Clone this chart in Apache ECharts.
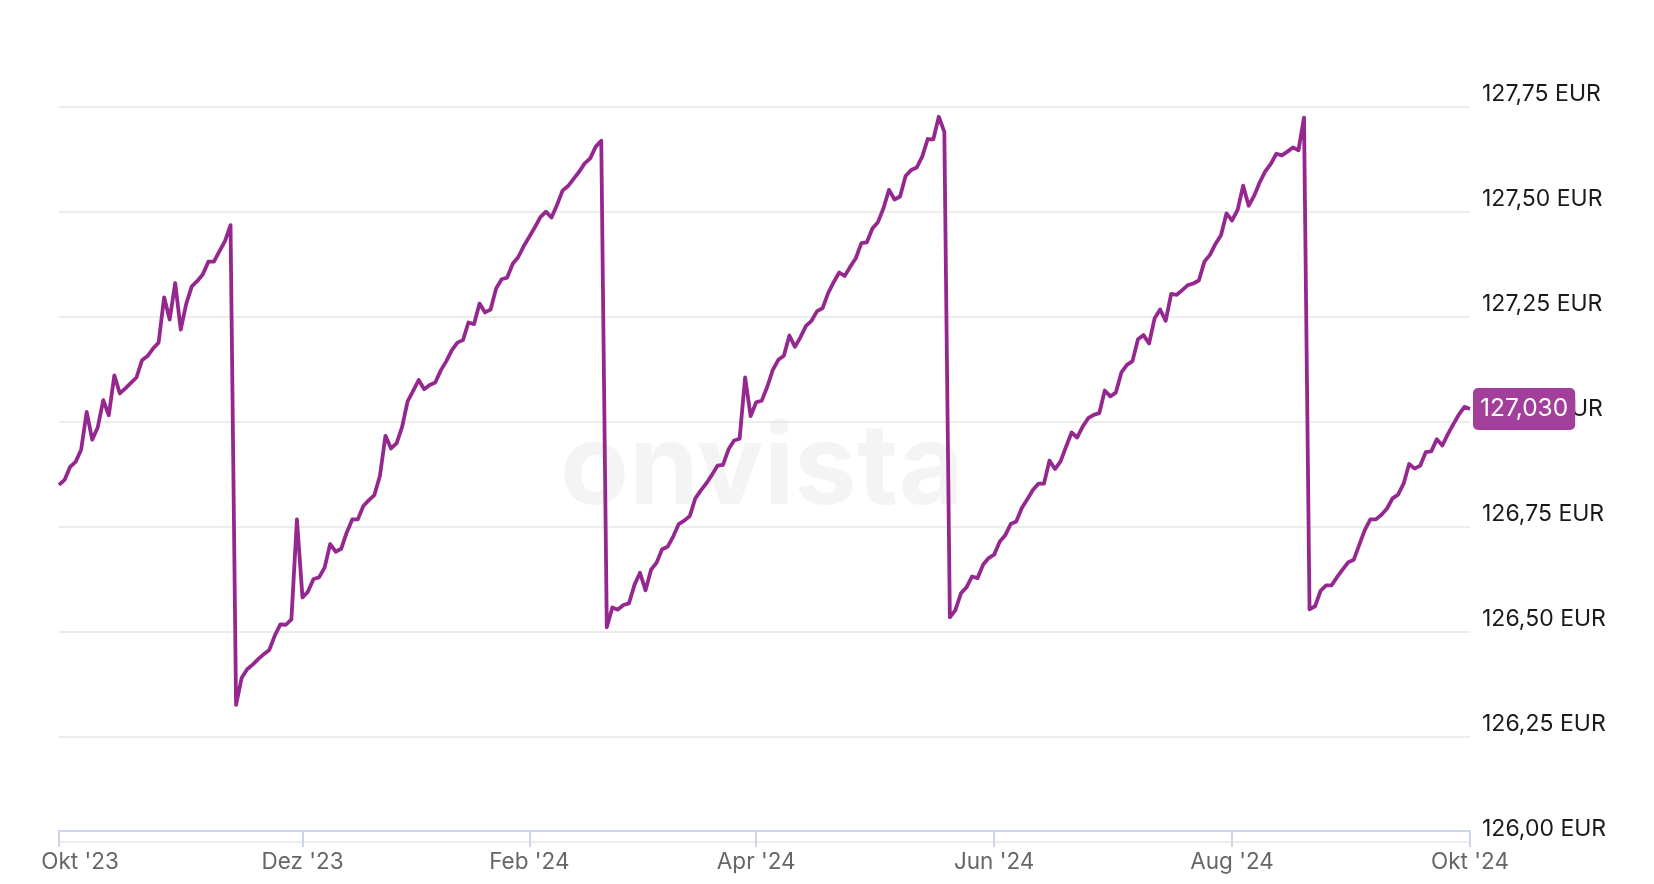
<!DOCTYPE html>
<html>
<head>
<meta charset="utf-8">
<script src="https://cdn.jsdelivr.net/npm/echarts@6/dist/echarts.min.js"></script>
<style>
html,body{margin:0;padding:0;background:#fff;}
#chart{width:1654px;height:884px;}
</style>
</head>
<body>
<div id="chart"></div>
<script>
// Trading calendar (Xetra): weekdays from 2023-10-02 to 2024-10-01, minus exchange holidays
const startDate = '2023-10-02';
const endDate = '2024-10-01';
const holidays = ['2023-12-25','2023-12-26','2024-01-01','2024-03-29','2024-04-01','2024-05-01'];
const monthNames = ['Jan','Feb','Mär','Apr','Mai','Jun','Jul','Aug','Sep','Okt','Nov','Dez'];

// Price values (EUR), split by coupon cycle
const cycle1 = [126.849,126.861,126.892,126.904,126.933,127.023,126.957,126.986,127.051,127.015,
  127.110,127.067,127.079,127.092,127.105,127.146,127.156,127.174,127.188,127.296,
  127.243,127.330,127.219,127.281,127.322,127.335,127.351,127.381,127.381,127.406,
  127.430,127.468];
const cycle2 = [126.325,126.389,126.410,126.421,126.434,126.446,126.456,126.490,126.517,126.516,
  126.529,126.767,126.581,126.595,126.625,126.629,126.652,126.708,126.690,126.697,
  126.736,126.767,126.767,126.799,126.813,126.825,126.871,126.966,126.936,126.948,
  126.987,127.048,127.073,127.099,127.077,127.087,127.093,127.122,127.144,127.170,
  127.188,127.194,127.236,127.232,127.281,127.260,127.267,127.317,127.339,127.343,
  127.376,127.392,127.418,127.440,127.463,127.487,127.500,127.486,127.516,127.550,
  127.561,127.578,127.595,127.615,127.627,127.655,127.669];
const cycle3 = [126.510,126.557,126.552,126.563,126.567,126.611,126.640,126.598,126.647,126.664,
  126.696,126.702,126.726,126.756,126.764,126.775,126.817,126.836,126.853,126.873,
  126.895,126.897,126.934,126.955,126.959,127.105,127.013,127.046,127.050,127.083,
  127.123,127.147,127.157,127.205,127.178,127.201,127.228,127.240,127.263,127.270,
  127.306,127.332,127.355,127.347,127.369,127.389,127.425,127.427,127.460,127.475,
  127.508,127.552,127.529,127.536,127.585,127.599,127.605,127.631,127.673,127.672,
  127.726,127.690];
const cycle4 = [126.534,126.551,126.591,126.605,126.631,126.627,126.659,126.675,126.683,126.714,
  126.729,126.756,126.762,126.794,126.815,126.837,126.852,126.852,126.907,126.887,
  126.905,126.940,126.974,126.962,126.988,127.008,127.016,127.020,127.074,127.060,
  127.069,127.117,127.135,127.144,127.196,127.206,127.186,127.246,127.267,127.240,
  127.304,127.302,127.313,127.325,127.329,127.336,127.381,127.397,127.423,127.444,
  127.496,127.479,127.504,127.562,127.514,127.538,127.570,127.596,127.614,127.638,
  127.634,127.643,127.653,127.646,127.724];
const cycle5 = [126.553,126.560,126.597,126.610,126.610,126.630,126.648,126.665,126.671,126.707,
  126.742,126.767,126.767,126.778,126.793,126.817,126.826,126.852,126.899,126.888,
  126.895,126.927,126.929,126.958,126.943,126.970,126.994,127.017,127.035,127.030];

const yMin = 126.00, yMax = 127.75, yStep = 0.25;

function buildDates(){
  const out = [];
  const d = new Date(startDate + 'T12:00:00Z');
  const end = new Date(endDate + 'T12:00:00Z');
  while (d <= end) {
    const wd = d.getUTCDay();
    const s = d.toISOString().slice(0,10);
    if (wd !== 0 && wd !== 6 && holidays.indexOf(s) < 0) out.push(s);
    d.setUTCDate(d.getUTCDate() + 1);
  }
  return out;
}
const dates = buildDates();
const values = cycle1.concat(cycle2, cycle3, cycle4, cycle5);

function isTickDay(i){
  const m = parseInt(dates[i].slice(5,7), 10);
  if (m % 2 !== 0) return false;
  return i === 0 || dates[i-1].slice(5,7) !== dates[i].slice(5,7);
}
function fmtDate(v, i){
  const m = parseInt(v.slice(5,7), 10);
  const t = monthNames[m-1] + " '" + v.slice(2,4);
  return i === 0 ? '{first|' + t + '}' : t;
}

const chart = echarts.init(document.getElementById('chart'), null, {renderer:'canvas'});
const lastVal = values[values.length-1];

chart.setOption({
  animation: false,
  backgroundColor: '#ffffff',
  graphic: [{
    type: 'text', x: 762, y: 470, z: 0, silent: true,
    style: {text: 'onvista', fontSize: 112, fontWeight: 'bold', fontFamily: 'Inter',
            fill: '#f4f4f4', align: 'center', verticalAlign: 'middle'}
  }],
  grid: {left: 59, right: 184, top: 106.7, bottom: 42.6, containLabel: false, outerBoundsMode: 'none'},
  xAxis: {
    type: 'category', data: dates, boundaryGap: false, offset: -10.5,
    axisLine: {show: true, lineStyle: {color: '#ccd6eb', width: 2}},
    axisTick: {show: true, interval: function(i){ return isTickDay(i); }, length: 16,
               lineStyle: {color: '#ccd6eb', width: 2}},
    axisLabel: {interval: function(i){ return isTickDay(i); }, formatter: fmtDate,
                color: '#666666', fontSize: 22.5, fontFamily: 'Inter', margin: 20,
                rich: {first: {color: '#666666', fontSize: 22.5, fontFamily: 'Inter', padding: [0, 0, 0, 42]}}},
    splitLine: {show: false}
  },
  yAxis: {
    type: 'value', position: 'right', min: yMin, max: yMax, interval: yStep, scale: true,
    axisLine: {show: false}, axisTick: {show: false},
    splitLine: {show: true, lineStyle: {color: '#e6e6e6', width: 1.5}},
    axisLabel: {formatter: function(v){ return v.toFixed(2).replace('.', ',') + ' EUR'; },
                color: '#1a1a1a', fontSize: 23, fontFamily: 'Inter', margin: 12,
                verticalAlign: 'bottom', lineHeight: 25}
  },
  series: [{
    type: 'line', data: values, showSymbol: false, symbol: 'none', z: 3,
    lineStyle: {color: '#95288f', width: 3.8, join: 'round'},
    itemStyle: {color: '#95288f'},
    endLabel: {
      show: true, distance: 3,
      formatter: function(){ return lastVal.toFixed(3).replace('.', ','); },
      color: '#ffffff', backgroundColor: '#a23f9b', borderRadius: 5,
      padding: [9, 7, 9, 7], fontSize: 24.5, lineHeight: 24, fontFamily: 'Inter'
    }
  }]
});
</script>
</body>
</html>
